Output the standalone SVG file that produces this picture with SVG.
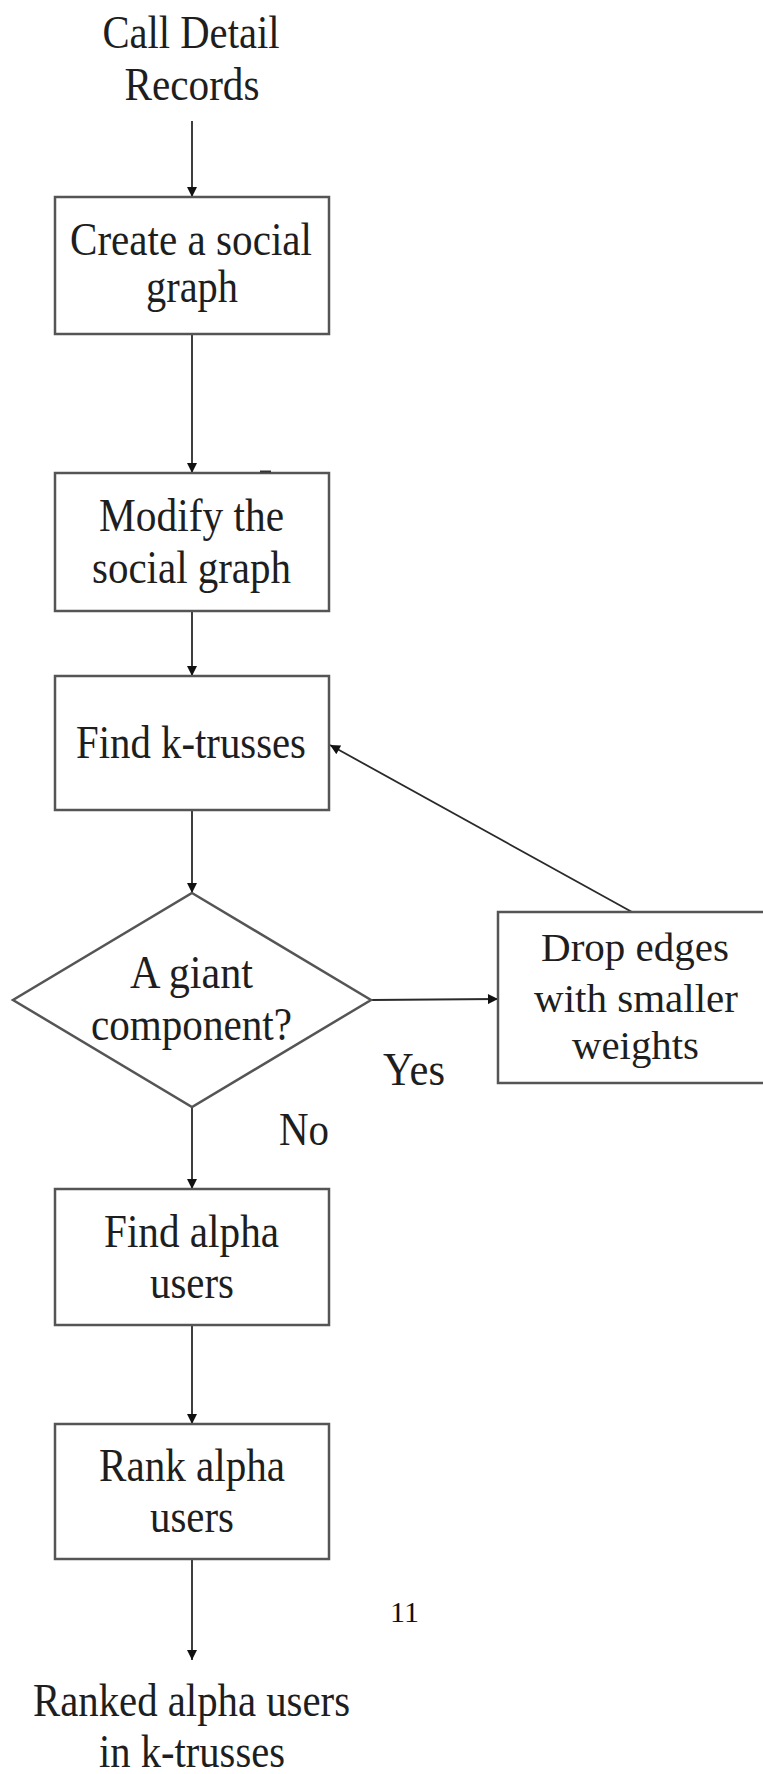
<svg xmlns="http://www.w3.org/2000/svg" width="763" height="1774" viewBox="0 0 763 1774">
  <style>
    .box { fill: #ffffff; stroke: #555555; stroke-width: 2.5; }
    .edge { fill: none; stroke: #2a2a2a; stroke-width: 1.8; }
    .lbl { font-family: "Liberation Serif", "Times New Roman", serif; font-size: 46px; fill: #1e1e1e; text-anchor: middle; }
    .tight { font-size: 41px; }
    .page { font-family: "Liberation Serif", "Times New Roman", serif; font-size: 30px; fill: #111111; }
  </style>
  <defs>
    <marker id="arrow" viewBox="0 0 10 10" refX="10" refY="5" markerWidth="12" markerHeight="10" markerUnits="userSpaceOnUse" orient="auto">
      <path d="M0,0 L10,5 L0,10 Z" fill="#111111"/>
    </marker>
  </defs>
  <rect x="0" y="0" width="763" height="1774" fill="#ffffff"/>

  <!-- connectors -->
  <g id="connectors">
    <line class="edge" x1="192" y1="121" x2="192" y2="197" marker-end="url(#arrow)"/>
    <line class="edge" x1="192" y1="334" x2="192" y2="473" marker-end="url(#arrow)"/>
    <line class="edge" x1="192" y1="611" x2="192" y2="676" marker-end="url(#arrow)"/>
    <line class="edge" x1="192" y1="810" x2="192" y2="893" marker-end="url(#arrow)"/>
    <line class="edge" x1="371" y1="1000" x2="498" y2="999" marker-end="url(#arrow)"/>
    <line class="edge" x1="632" y1="912" x2="330" y2="745" marker-end="url(#arrow)"/>
    <line class="edge" x1="192" y1="1107" x2="192" y2="1189" marker-end="url(#arrow)"/>
    <line class="edge" x1="192" y1="1325" x2="192" y2="1424" marker-end="url(#arrow)"/>
    <line class="edge" x1="192" y1="1559" x2="192" y2="1660" marker-end="url(#arrow)"/>
  </g>

  <!-- input -->
  <g id="cdr">
    <text class="lbl" x="191" y="48" textLength="177" lengthAdjust="spacingAndGlyphs">Call Detail</text>
    <text class="lbl" x="192" y="100" textLength="135" lengthAdjust="spacingAndGlyphs">Records</text>
  </g>

  <g id="create-graph">
    <rect class="box" x="55" y="197" width="274" height="137"/>
    <text class="lbl" x="191" y="255" textLength="242" lengthAdjust="spacingAndGlyphs">Create a social</text>
    <text class="lbl" x="192" y="302" textLength="92" lengthAdjust="spacingAndGlyphs">graph</text>
  </g>

  <g id="modify-graph">
    <rect class="box" x="55" y="473" width="274" height="138"/>
    <line x1="260" y1="471.5" x2="271" y2="471.5" stroke="#333333" stroke-width="2"/>
    <text class="lbl" x="191.5" y="531" textLength="185" lengthAdjust="spacingAndGlyphs">Modify the</text>
    <text class="lbl" x="191.5" y="583" textLength="199" lengthAdjust="spacingAndGlyphs">social graph</text>
  </g>

  <g id="find-ktrusses">
    <rect class="box" x="55" y="676" width="274" height="134"/>
    <text class="lbl" x="191" y="758" textLength="230" lengthAdjust="spacingAndGlyphs">Find k-trusses</text>
  </g>

  <g id="giant-component">
    <polygon class="box" points="192,893 371,1000 192,1107 13,1000" stroke-width="2"/>
    <text class="lbl" x="191.5" y="988" textLength="123" lengthAdjust="spacingAndGlyphs">A giant</text>
    <text class="lbl" x="191.5" y="1040" textLength="201" lengthAdjust="spacingAndGlyphs">component?</text>
  </g>

  <g id="drop-edges">
    <rect class="box" x="498" y="912" width="280" height="171"/>
    <text class="lbl tight" x="635" y="961" textLength="188" lengthAdjust="spacingAndGlyphs">Drop edges</text>
    <text class="lbl tight" x="636" y="1012" textLength="204" lengthAdjust="spacingAndGlyphs">with smaller</text>
    <text class="lbl tight" x="635.5" y="1059" textLength="127" lengthAdjust="spacingAndGlyphs">weights</text>
  </g>

  <g id="branch-labels">
    <text class="lbl" x="414" y="1085" textLength="62" lengthAdjust="spacingAndGlyphs">Yes</text>
    <text class="lbl" x="304" y="1145" textLength="50" lengthAdjust="spacingAndGlyphs">No</text>
  </g>

  <g id="find-alpha">
    <rect class="box" x="55" y="1189" width="274" height="136"/>
    <text class="lbl" x="191.5" y="1247" textLength="175" lengthAdjust="spacingAndGlyphs">Find alpha</text>
    <text class="lbl" x="192" y="1298" textLength="84" lengthAdjust="spacingAndGlyphs">users</text>
  </g>

  <g id="rank-alpha">
    <rect class="box" x="55" y="1424" width="274" height="135"/>
    <text class="lbl" x="192" y="1481" textLength="186" lengthAdjust="spacingAndGlyphs">Rank alpha</text>
    <text class="lbl" x="192" y="1532" textLength="84" lengthAdjust="spacingAndGlyphs">users</text>
  </g>

  <g id="output">
    <text class="lbl" x="191.5" y="1716" textLength="317" lengthAdjust="spacingAndGlyphs">Ranked alpha users</text>
    <text class="lbl" x="192" y="1767" textLength="186" lengthAdjust="spacingAndGlyphs">in k-trusses</text>
  </g>

  <g id="page-number">
    <text class="page" x="390" y="1622">11</text>
  </g>
</svg>
